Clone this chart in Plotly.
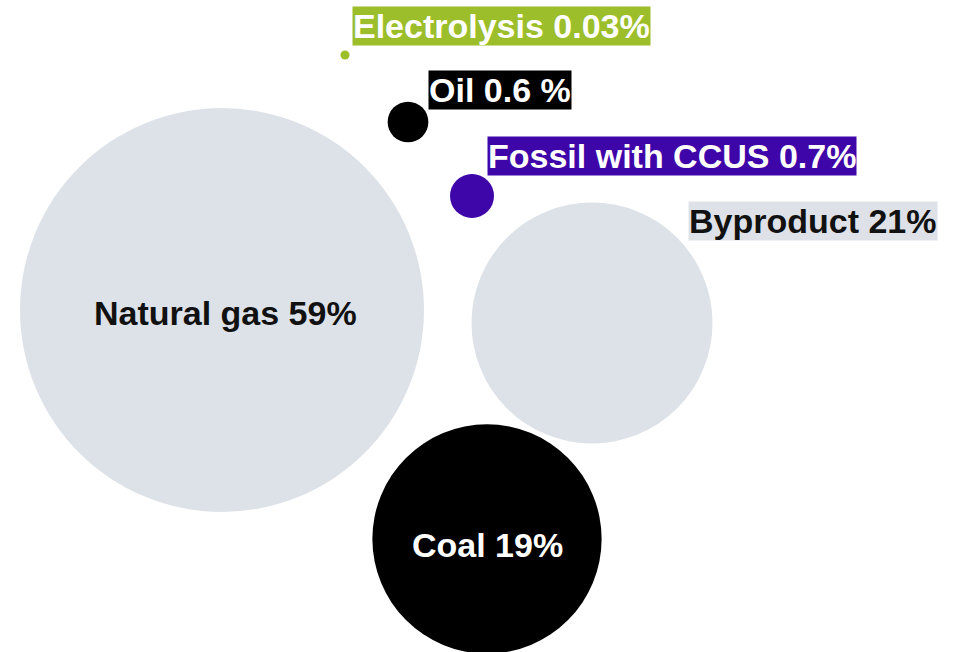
import plotly.graph_objects as go
import math

# Data
categories = ["Natural gas", "Byproduct", "Coal", "Fossil with CCUS", "Oil", "Electrolysis"]
shares = [59, 21, 19, 0.7, 0.6, 0.03]
label_texts = ["Natural gas 59%", "Byproduct 21%", "Coal 19%", "Fossil with CCUS 0.7%", "Oil 0.6 %", "Electrolysis 0.03%"]

# Layout (bubble centres in a 960x652 canvas coordinate system)
bubble_x = [222, 592, 487, 472, 408, 345]
bubble_y = [310, 323, 539, 196, 122, 55]
bubble_colors = ["#DDE2E9", "#DDE2E9", "#000000", "#3E06A8", "#000000", "#9CBE2A"]

max_diam = 404
sizes = [max_diam * math.sqrt(s / max(shares)) for s in shares]

fig = go.Figure()
fig.add_trace(go.Scatter(
    x=bubble_x, y=bubble_y, mode="markers",
    marker=dict(size=sizes, sizemode="diameter", color=bubble_colors, line=dict(width=0), opacity=1),
    hoverinfo="text", text=label_texts, showlegend=False,
))

font_family = "Liberation Sans, Arial, sans-serif"
fsize = 34

# Labels inside bubbles
fig.add_annotation(x=bubble_x[0] + 3, y=bubble_y[0] + 3, text="<b>" + label_texts[0] + "</b>", showarrow=False,
                   font=dict(family=font_family, size=fsize, color="#111111"))
fig.add_annotation(x=bubble_x[2], y=bubble_y[2] + 6, text="<b>" + label_texts[2] + "</b>", showarrow=False,
                   font=dict(family=font_family, size=fsize, color="#FFFFFF"))

# Boxed labels
boxed = [
    (5, 352, 26, "#9CBE2A", "#FFFFFF"),
    (4, 428, 90, "#000000", "#FFFFFF"),
    (3, 487, 156, "#3E06A8", "#FFFFFF"),
    (1, 688, 221, "#DEE2E8", "#111111"),
]
for idx, lx, ly, bg, fc in boxed:
    fig.add_annotation(x=lx, y=ly, text="<b>" + label_texts[idx] + "</b>", showarrow=False,
                       xanchor="left", yanchor="middle", bgcolor=bg, borderpad=0,
                       font=dict(family=font_family, size=fsize, color=fc))

fig.update_layout(
    width=960, height=652, margin=dict(l=0, r=0, t=0, b=0),
    paper_bgcolor="white", plot_bgcolor="white",
    xaxis=dict(range=[0, 960], visible=False, fixedrange=True),
    yaxis=dict(range=[652, 0], visible=False, fixedrange=True),
)
fig.write_html("out.html")
